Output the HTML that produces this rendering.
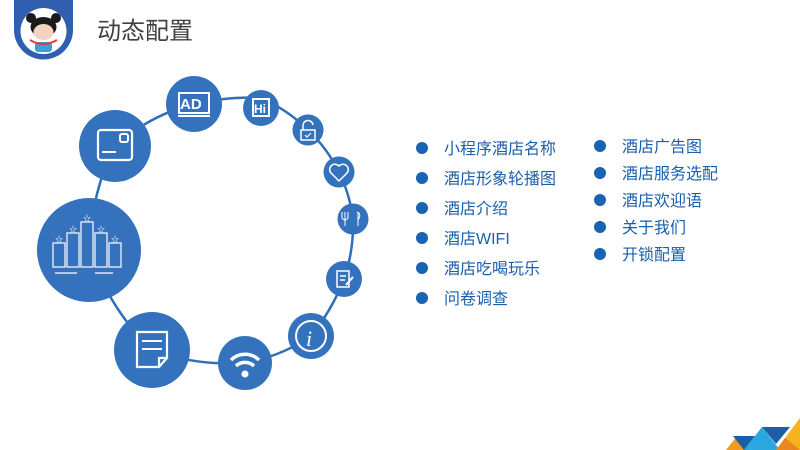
<!DOCTYPE html>
<html><head><meta charset="utf-8"><style>
html,body{margin:0;padding:0;background:#fff;}
body{width:800px;height:450px;overflow:hidden;position:relative;font-family:"Liberation Sans","Noto Sans CJK SC",sans-serif;}
svg{position:absolute;left:0;top:0;}
.t{font-family:"Liberation Sans","Noto Sans CJK SC",sans-serif;font-size:16px;fill:#1a5fad;}
</style></head><body>
<svg width="800" height="450" viewBox="0 0 800 450">
<path d="M14 0 H73 V30 A29.5 29.5 0 0 1 14 30 Z" fill="#2f5fae"/>
<circle cx="43.5" cy="31" r="23" fill="#fff"/>
<ellipse cx="43.5" cy="27" rx="13" ry="10" fill="#1a1a1a"/>
<circle cx="31" cy="18" r="5" fill="#1a1a1a"/><circle cx="56" cy="18" r="5" fill="#1a1a1a"/>
<ellipse cx="43.5" cy="32" rx="10" ry="8" fill="#f3d2c0"/>
<rect x="35" y="42" width="17" height="10" rx="3" fill="#3aa0d8"/>
<path d="M30 40 Q43 48 57 40" stroke="#e03a3a" stroke-width="2" fill="none"/>
<text x="97" y="39" font-size="24" fill="#404040" font-family="'Liberation Sans','Noto Sans CJK SC',sans-serif">动态配置</text>

<g stroke="#2f6fba" stroke-width="2.5" fill="none">
<path d="M115,146 Q150,115 194,104 Q230,96 261,98 Q288,110 308,130 Q327,148 339,172 Q350,195 353,219 Q354,250 344,279 Q332,310 311,336 Q282,356 245,363 Q195,366 152,350 Q110,310 89,250 Q92,190 115,146"/>
</g>
<g fill="#3572bd">
<circle cx="194" cy="104" r="28"/>
<circle cx="261" cy="108" r="18"/>
<circle cx="308" cy="130" r="15.5"/>
<circle cx="339" cy="172" r="15.5"/>
<circle cx="353" cy="219" r="15.5"/>
<circle cx="344" cy="279" r="18"/>
<circle cx="311" cy="336" r="23"/>
<circle cx="245" cy="363" r="27"/>
<circle cx="152" cy="350" r="38"/>
<circle cx="89" cy="250" r="52"/>
<circle cx="115" cy="146" r="36"/>
</g>
<g stroke="#fff" fill="none" stroke-width="2">
<rect x="179" y="93" width="30" height="20"/><line x1="178" y1="116" x2="210" y2="116"/>
<rect x="253" y="99" width="16" height="17"/>
<rect x="301" y="130" width="14" height="10" stroke-width="1.5"/><path d="M303 130 V126 A5 5 0 0 1 313 125" stroke-width="1.5"/><path d="M305 135 l2 2 l4 -4" stroke-width="1.2"/>
<path d="M339 181 L331 173 A4.5 4.5 0 0 1 339 166 A4.5 4.5 0 0 1 347 173 Z" stroke-width="1.5"/>
<path d="M345 212 V226 M342 212 V218 Q345 222 348 218 V212 M357 212 Q362 214 358 220 M358 212 V226" stroke-width="1"/>
<path d="M337 271 H349 V287 H337 Z M340 276 H346 M340 280 H345" stroke-width="1.5"/><path d="M346 285 L353 277" stroke-width="2"/>
<circle cx="311" cy="336" r="15"/>
<path d="M231 360 A20 20 0 0 1 259 360" stroke-width="3.5"/><path d="M236 366 A13 13 0 0 1 254 366" stroke-width="3.5"/>
<path d="M137 332 H167 V358 L159 367 H137 Z M159 367 V358 H167" stroke-width="2.2"/><line x1="142" y1="341" x2="162" y2="341"/><line x1="142" y1="349" x2="162" y2="349"/>
<rect x="98" y="130" width="34" height="30" rx="3" stroke-width="2.2"/><rect x="120" y="134" width="8" height="8" rx="2"/><line x1="102" y1="152" x2="116" y2="152"/>
<g stroke-width="1.2"><rect x="53" y="243" width="12" height="24"/><rect x="67" y="233" width="12" height="34"/><rect x="81" y="222" width="12" height="45"/><rect x="95" y="233" width="12" height="34"/><rect x="109" y="243" width="12" height="24"/>
<line x1="55" y1="273" x2="77" y2="273"/><line x1="95" y1="273" x2="113" y2="273"/></g>
</g>
<text x="254" y="113" font-size="12" font-weight="bold" fill="#fff">Hi</text>
<text x="180" y="109" font-size="15" font-weight="bold" fill="#fff">AD</text>
<text x="306" y="346" font-size="22" font-style="italic" font-family="'Liberation Serif',serif" fill="#fff">i</text>
<circle cx="245" cy="374" r="3.5" fill="#fff"/>
<g fill="#fff" font-size="8"><text x="83" y="221">☆</text><text x="69" y="232">☆</text><text x="97" y="232">☆</text><text x="55" y="242">☆</text><text x="111" y="242">☆</text></g>

<g fill="#1a62b4">
<circle cx="422" cy="148" r="6"/><circle cx="422" cy="178" r="6"/><circle cx="422" cy="208" r="6"/><circle cx="422" cy="238" r="6"/><circle cx="422" cy="268" r="6"/><circle cx="422" cy="298" r="6"/>
<circle cx="600" cy="146" r="6"/><circle cx="600" cy="173" r="6"/><circle cx="600" cy="200" r="6"/><circle cx="600" cy="227" r="6"/><circle cx="600" cy="254" r="6"/>
</g>
<text class="t" x="444" y="154">小程序酒店名称</text>
<text class="t" x="444" y="184">酒店形象轮播图</text>
<text class="t" x="444" y="214">酒店介绍</text>
<text class="t" x="444" y="244">酒店WIFI</text>
<text class="t" x="444" y="274">酒店吃喝玩乐</text>
<text class="t" x="444" y="304">问卷调查</text>
<text class="t" x="622" y="152">酒店广告图</text>
<text class="t" x="622" y="179">酒店服务选配</text>
<text class="t" x="622" y="206">酒店欢迎语</text>
<text class="t" x="622" y="233">关于我们</text>
<text class="t" x="622" y="260">开锁配置</text>

<polygon points="726,450 738,435 750,450" fill="#f39a1e"/>
<polygon points="733,436 755,436 744,450" fill="#1d5ea8"/>
<polygon points="744,450 762,427 780,450" fill="#29a8e0"/>
<polygon points="762,427 790,427 776,444" fill="#1d5ea8"/>
<polygon points="776,450 800,418 800,450" fill="#f6b31b"/>
<polygon points="776,450 785,438 800,450" fill="#e9861d"/>
</svg>
</body></html>
